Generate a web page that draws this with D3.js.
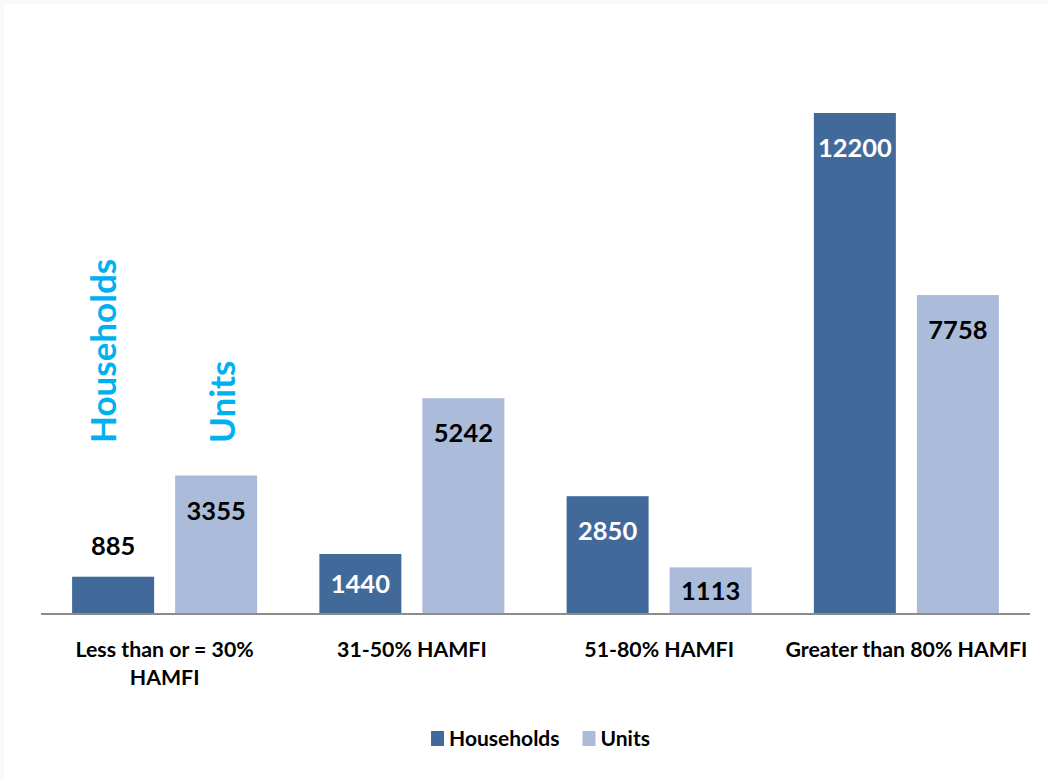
<!DOCTYPE html>
<html>
<head>
<meta charset="utf-8">
<script src="https://cdn.jsdelivr.net/npm/d3@7"></script>
<style>
  html, body { margin: 0; padding: 0; background: #faf9f6; }
  svg { display: block; }
  text { font-family: Lato, "Open Sans", sans-serif; font-weight: 700; }
</style>
</head>
<body>
<svg id="chart" width="1048" height="778"></svg>
<script>
// Housing households vs. units by income bracket (HAMFI)
const categories = ["Less than or = 30% HAMFI", "31-50% HAMFI", "51-80% HAMFI", "Greater than 80% HAMFI"];
const tickLabels = [["Less than or = 30%", "HAMFI"], ["31-50% HAMFI"], ["51-80% HAMFI"], ["Greater than 80% HAMFI"]];
const seriesNames = ["Households", "Units"];
const households = [885, 1440, 2850, 12200];
const units = [3355, 5242, 1113, 7758];

const colors = { Households: "#416a9b", Units: "#abbcda" };
const labelColors = { Households: "#ffffff", Units: "#000000" };

const svg = d3.select("#chart");
const W = 1048, H = 778;

// white chart area inside the thin off-white frame
svg.append("rect").attr("x", 4).attr("y", 4).attr("width", W - 4).attr("height", H - 4).attr("fill", "#ffffff");

const plot = { left: 41, right: 1030, top: 39, bottom: 613 };

const x0 = d3.scaleBand().domain(categories).range([plot.left, plot.right]).padding(0);
const x1 = d3.scaleBand().domain(seriesNames).range([0, x0.bandwidth()])
  .paddingInner(0.204).paddingOuter(0.302);
const y = d3.scaleLinear().domain([0, 14000]).range([plot.bottom, plot.bottom - 14000 * (500 / 12200)]);

const rows = categories.map((c, i) => ({
  category: c,
  values: [
    { series: "Households", value: households[i] },
    { series: "Units", value: units[i] }
  ]
}));

const groups = svg.append("g").selectAll("g").data(rows).join("g")
  .attr("transform", d => `translate(${x0(d.category)},0)`);

groups.selectAll("rect").data(d => d.values).join("rect")
  .attr("x", d => x1(d.series))
  .attr("y", d => y(d.value))
  .attr("width", x1.bandwidth())
  .attr("height", d => y(0) - y(d.value))
  .attr("fill", d => colors[d.series]);

// value labels: above very short bars, centred on short ones, inside the end otherwise
groups.selectAll("text.val").data(d => d.values).join("text")
  .attr("class", "val")
  .attr("x", d => x1(d.series) + x1.bandwidth() / 2)
  .attr("y", d => {
    const h = y(0) - y(d.value);
    if (h < 40) return y(d.value) - 22;
    if (h < 70) return y(d.value) + h / 2 + 9.5;
    return y(d.value) + 44;
  })
  .attr("text-anchor", "middle")
  .attr("font-size", 25.5)
  .attr("fill", d => (y(0) - y(d.value) < 40) ? "#000000" : labelColors[d.series])
  .text(d => d.value);

// baseline axis
svg.append("line")
  .attr("x1", plot.left).attr("x2", plot.right)
  .attr("y1", plot.bottom + 1).attr("y2", plot.bottom + 1)
  .attr("stroke", "#8c8c8c").attr("stroke-width", 2);

// category labels
const catG = svg.append("g");
categories.forEach((c, i) => {
  const t = catG.append("text")
    .attr("x", x0(c) + x0.bandwidth() / 2)
    .attr("y", 657)
    .attr("text-anchor", "middle")
    .attr("font-size", 21.3)
    .attr("fill", "#000000");
  tickLabels[i].forEach((line, j) => {
    t.append("tspan").attr("x", x0(c) + x0.bandwidth() / 2).attr("dy", j === 0 ? 0 : 28).text(line);
  });
});

// series names written up the first pair of bars
const firstCat = categories[0];
const annot = [
  { name: "Households", dx: -9 },
  { name: "Units", dx: 7 }
];
annot.forEach(a => {
  const cx = x0(firstCat) + x1(a.name) + x1.bandwidth() / 2 + a.dx + 12;
  svg.append("text")
    .attr("transform", `translate(${cx},443) rotate(-90)`)
    .attr("font-size", 35)
    .attr("fill", "#00b0f0")
    .text(a.name);
});

// legend
const legend = svg.append("g");
let lx = 0;
seriesNames.forEach((s, i) => {
  const g = legend.append("g").attr("transform", `translate(${lx},0)`);
  g.append("rect").attr("x", 0).attr("y", 731).attr("width", 13).attr("height", 15).attr("fill", colors[s]);
  const t = g.append("text").attr("x", 18).attr("y", 746).attr("font-size", 21).attr("fill", "#000000").text(s);
  lx += 18 + t.node().getComputedTextLength() + 23;
});
const lb = legend.node().getBBox();
legend.attr("transform", `translate(${540.5 - (lb.x + lb.width / 2)},0)`);
</script>
</body>
</html>
